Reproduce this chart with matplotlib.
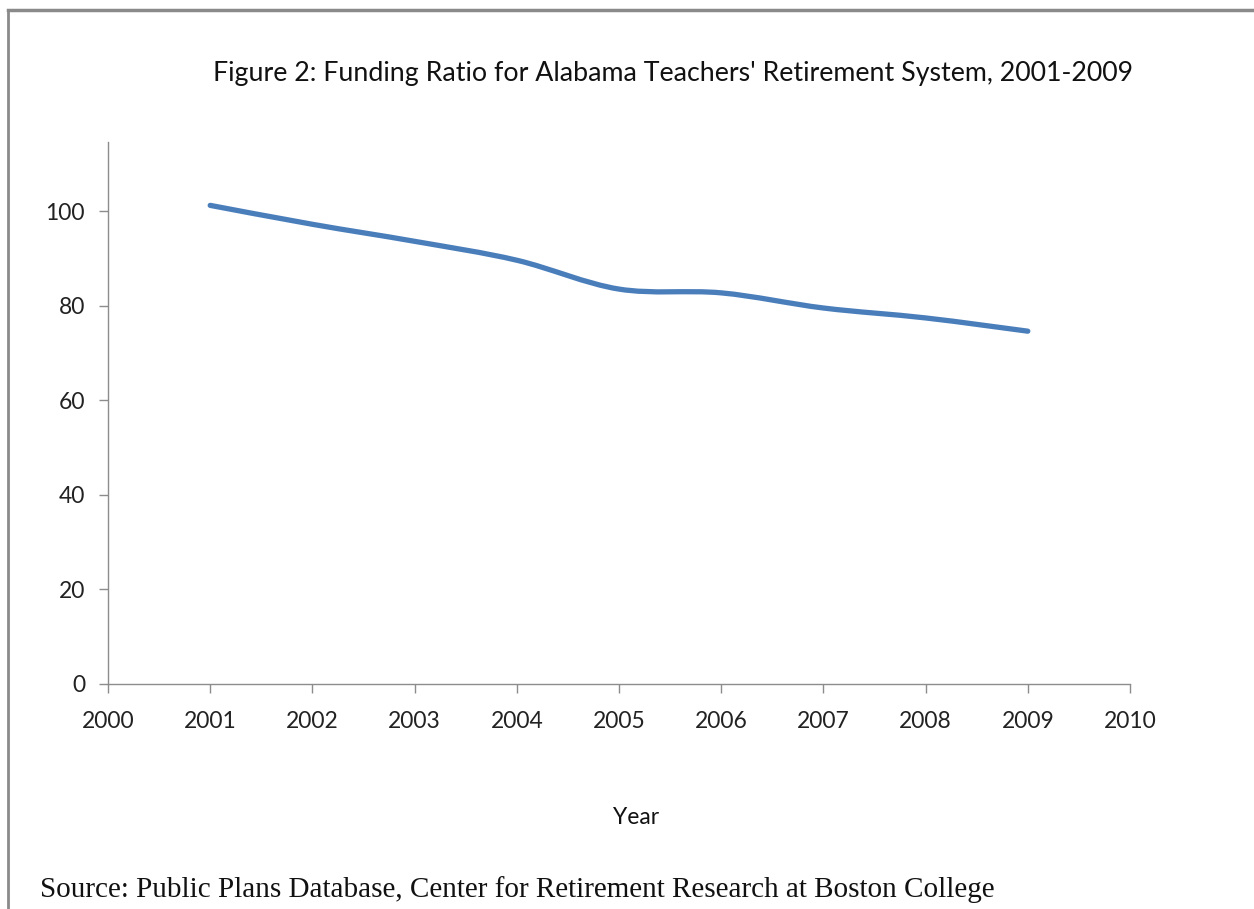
"""
Funding ratio chart for the Alabama Teachers' Retirement System.
"""

import matplotlib
matplotlib.use('Agg')
import matplotlib.pyplot as plt
from matplotlib.path import Path
from matplotlib.patches import PathPatch

years = [2001, 2002, 2003, 2004, 2005, 2006, 2007, 2008, 2009]
funding_ratio = [101.2, 97.2, 93.6, 89.6, 83.5, 82.7, 79.5, 77.4, 74.6]
x_ticks = list(range(2000, 2011))
y_ticks = [0, 20, 40, 60, 80, 100]

title = "Figure 2: Funding Ratio for Alabama Teachers' Retirement System, 2001-2009"
source = "Source: Public Plans Database, Center for Retirement Research at Boston College"

LINE_BLUE = '#4A7EBB'
AXIS_GRAY = '#8C8C8C'


def smooth_path(xs, ys):
    # excel style smoothed line: cubic bezier between points
    pts = list(zip(xs, ys))
    verts = [pts[0]]
    codes = [Path.MOVETO]
    n = len(pts)
    for i in range(n - 1):
        p0 = pts[max(i - 1, 0)]
        p1 = pts[i]
        p2 = pts[i + 1]
        p3 = pts[min(i + 2, n - 1)]
        c1 = (p1[0] + (p2[0] - p0[0]) / 6, p1[1] + (p2[1] - p0[1]) / 6)
        c2 = (p2[0] - (p3[0] - p1[0]) / 6, p2[1] - (p3[1] - p1[1]) / 6)
        verts += [c1, c2, p2]
        codes += [Path.CURVE4] * 3
    return Path(verts, codes)


fig = plt.figure(figsize=(12.54, 9.09), dpi=100)
fig.patch.set_facecolor('white')

# outer chart frame (only top and left edges visible)
fig.add_artist(plt.Line2D([8 / 1254, 8 / 1254], [0, 1 - 10 / 909],
                          color='#8A8A8A', lw=2, transform=fig.transFigure))
fig.add_artist(plt.Line2D([8 / 1254, 1], [1 - 10 / 909, 1 - 10 / 909],
                          color='#8A8A8A', lw=2.5, transform=fig.transFigure))

ax = fig.add_axes([108 / 1254, 1 - 684 / 909, (1130 - 108) / 1254, (684 - 142) / 909])

patch = PathPatch(smooth_path(years, funding_ratio), fill=False,
                  edgecolor=LINE_BLUE, lw=3.8, capstyle='round')
ax.add_patch(patch)

ax.set_xlim(2000, 2010)
ax.set_ylim(0, 114.6)
ax.set_xticks(x_ticks)
ax.set_yticks(y_ticks)

for side in ['top', 'right']:
    ax.spines[side].set_visible(False)
for side in ['left', 'bottom']:
    ax.spines[side].set_color(AXIS_GRAY)
    ax.spines[side].set_linewidth(1.0)

ax.tick_params(axis='both', direction='out', length=6.5, width=1.0,
               color=AXIS_GRAY, labelsize=16.5, labelcolor='#222222')
ax.tick_params(axis='x', pad=13)
ax.tick_params(axis='y', pad=10)
for lbl in ax.get_xticklabels() + ax.get_yticklabels():
    lbl.set_family('Lato')

fig.text(636 / 1254, 1 - 818 / 909, 'Year', ha='center', va='center',
         fontsize=16.5, family='Lato', color='#111111')

fig.text(673 / 1254, 1 - 73 / 909, title, ha='center', va='center',
         fontsize=19.3, family='Lato', color='#111111')
fig.text(40 / 1254, 1 - 890 / 909, source, ha='left', va='center',
         fontsize=21, family='Liberation Serif', color='#111111')

fig.savefig('out.png', dpi=100, facecolor='white')
